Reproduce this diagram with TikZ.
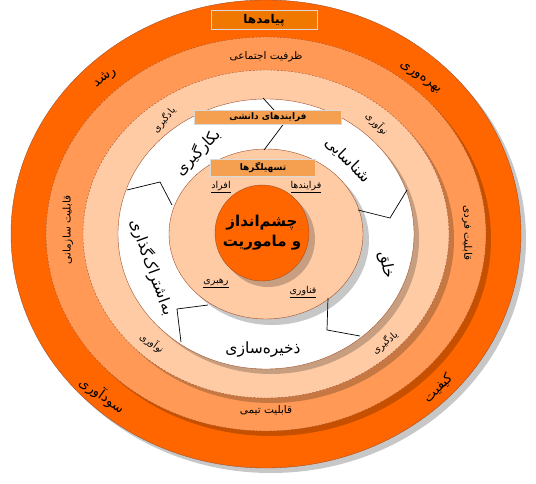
\documentclass[tikz,border=0pt]{standalone}
\usepackage{fontspec}
\newfontfamily\arabicfont[Script=Arabic]{DejaVu Sans}
\TeXXeTstate=1
\newcommand{\fatext}[1]{{\arabicfont\beginR #1\endR}}

\definecolor{darkOrange}{HTML}{FF6600}
\definecolor{midOrange}{HTML}{FF9955}
\definecolor{peach}{HTML}{FFCBA4}
\definecolor{boxOrange}{HTML}{F07800}
\definecolor{lightBox}{HTML}{F5A050}
\definecolor{rimBrown}{HTML}{A0522D}

\begin{document}
\begin{tikzpicture}[x=1pt,y=-1pt]

\tikzstyle{shade}=[fill=black,opacity=0.22]
\tikzstyle{rim}=[draw=rimBrown,line width=0.4pt]
\tikzstyle{dashedRim}=[rim,dash pattern=on 2pt off 1.5pt]
\tikzstyle{titleBox}=[fill=boxOrange,draw=white!85!black,line width=0.8pt,minimum width=106pt,minimum height=19pt,inner sep=0pt,font=\bfseries\fontsize{12}{13}\selectfont]
\tikzstyle{headBox}=[fill=lightBox,draw=white!85!black,line width=0.6pt,inner sep=0pt,font=\bfseries\fontsize{9}{10}\selectfont]
\tikzstyle{outerLabel}=[inner sep=1pt,font=\fontsize{13.5}{15}\selectfont]
\tikzstyle{ringLabel}=[inner sep=1pt,font=\fontsize{10.5}{12}\selectfont]
\tikzstyle{smallLabel}=[inner sep=1pt,font=\fontsize{9.5}{11}\selectfont]
\tikzstyle{stageLabel}=[inner sep=1pt,font=\fontsize{15.5}{17}\selectfont]
\tikzstyle{divider}=[draw=black,line width=0.7pt]

\useasboundingbox (0,0) rectangle (536,484);

%Rings
\fill[shade] (271,239) ellipse [x radius=255,y radius=234];
\path[fill=darkOrange,rim] (266,234) ellipse [x radius=255,y radius=234];
\fill[shade] (271,239) ellipse [x radius=220,y radius=197];
\path[fill=midOrange,dashedRim] (266,234) ellipse [x radius=220,y radius=197];
\fill[shade] (271,239) ellipse [x radius=183,y radius=164];
\path[fill=peach,dashedRim] (266,234) ellipse [x radius=183,y radius=164];
\fill[shade] (271,239) ellipse [x radius=148,y radius=135];
\path[fill=white,rim] (266,234) ellipse [x radius=148,y radius=135];
\fill[shade] (272,240) ellipse [x radius=97,y radius=85];
\path[fill=peach,rim] (266,234) ellipse [x radius=97,y radius=85];
\fill[shade] (268,239) ellipse [x radius=47,y radius=48];
\path[fill=darkOrange,rim] (262,233) ellipse [x radius=47,y radius=48];

%Dividers
\draw[divider] (263,98)  -- (285,122) -- (264,150);
\draw[divider] (127,190) -- (160,182) -- (172,205);
\draw[divider] (407,190) -- (390,218) -- (358,210);
\draw[divider] (328,298) -- (327,330) -- (360,336);
\draw[divider] (208,305) -- (177,309) -- (181,342);

%Boxes
\node[titleBox] (outcomes) at (264,20) {\fatext{پیامدها}};
\node[headBox,minimum width=147pt,minimum height=14pt] (knowledge) at (268,117) {\fatext{فرایندهای دانشی}};
\node[headBox,minimum width=105pt,minimum height=17pt] (enablers) at (263,168) {\fatext{تسهیلگرها}};

%Outer ring
\node[outerLabel,rotate=35]  (growth)  at (105,78)  {\fatext{رشد}};
\node[outerLabel,rotate=-35] (product) at (420,78)  {\fatext{بهره‌وری}};
\node[outerLabel,rotate=-35] (profit)  at (102,395) {\fatext{سودآوری}};
\node[outerLabel,rotate=45]  (quality) at (438,388) {\fatext{کیفیت}};

%Capability ring
\node[ringLabel] (social) at (266,57) {\fatext{ظرفیت اجتماعی}};
\node[ringLabel,rotate=90] (orgCap) at (68,230) {\fatext{قابلیت سازمانی}};
\node[ringLabel,rotate=-90] (indCap) at (467,233) {\fatext{قابلیت فردی}};
\node[ringLabel] (teamCap) at (266,410) {\fatext{قابلیت تیمی}};

%Learning ring
\node[smallLabel,rotate=50]  (learnA) at (164,120) {\fatext{یادگیری}};
\node[smallLabel,rotate=-45] (innovA) at (377,124) {\fatext{نوآوری}};
\node[smallLabel,rotate=-35] (innovB) at (152,343) {\fatext{نوآوری}};
\node[smallLabel,rotate=40]  (learnB) at (385,343) {\fatext{یادگیری}};

%Knowledge processes
\node[stageLabel,rotate=45]  (apply)    at (198,152) {\fatext{بکارگیری}};
\node[stageLabel,rotate=-45] (identify) at (348,160) {\fatext{شناسایی}};
\node[stageLabel,rotate=-70] (share)    at (152,267) {\fatext{به‌اشتراک‌گذاری}};
\node[stageLabel,rotate=-80] (create)   at (386,265) {\fatext{خلق}};
\node[stageLabel] (store) at (263,350) {\fatext{ذخیره‌سازی}};

%Enablers
\node[smallLabel] (people)     at (221,187) {\underline{\fatext{افراد}}};
\node[smallLabel] (processes)  at (306,187) {\underline{\fatext{فرایندها}}};
\node[smallLabel] (leadership) at (216,283) {\underline{\fatext{رهبری}}};
\node[smallLabel] (technology) at (303,292) {\underline{\fatext{فناوری}}};

%Core
\node[align=center,font=\bfseries\fontsize{15}{20}\selectfont] (vision) at (262,233) {\fatext{چشم‌انداز}\\\fatext{و ماموریت}};

\end{tikzpicture}
\end{document}
